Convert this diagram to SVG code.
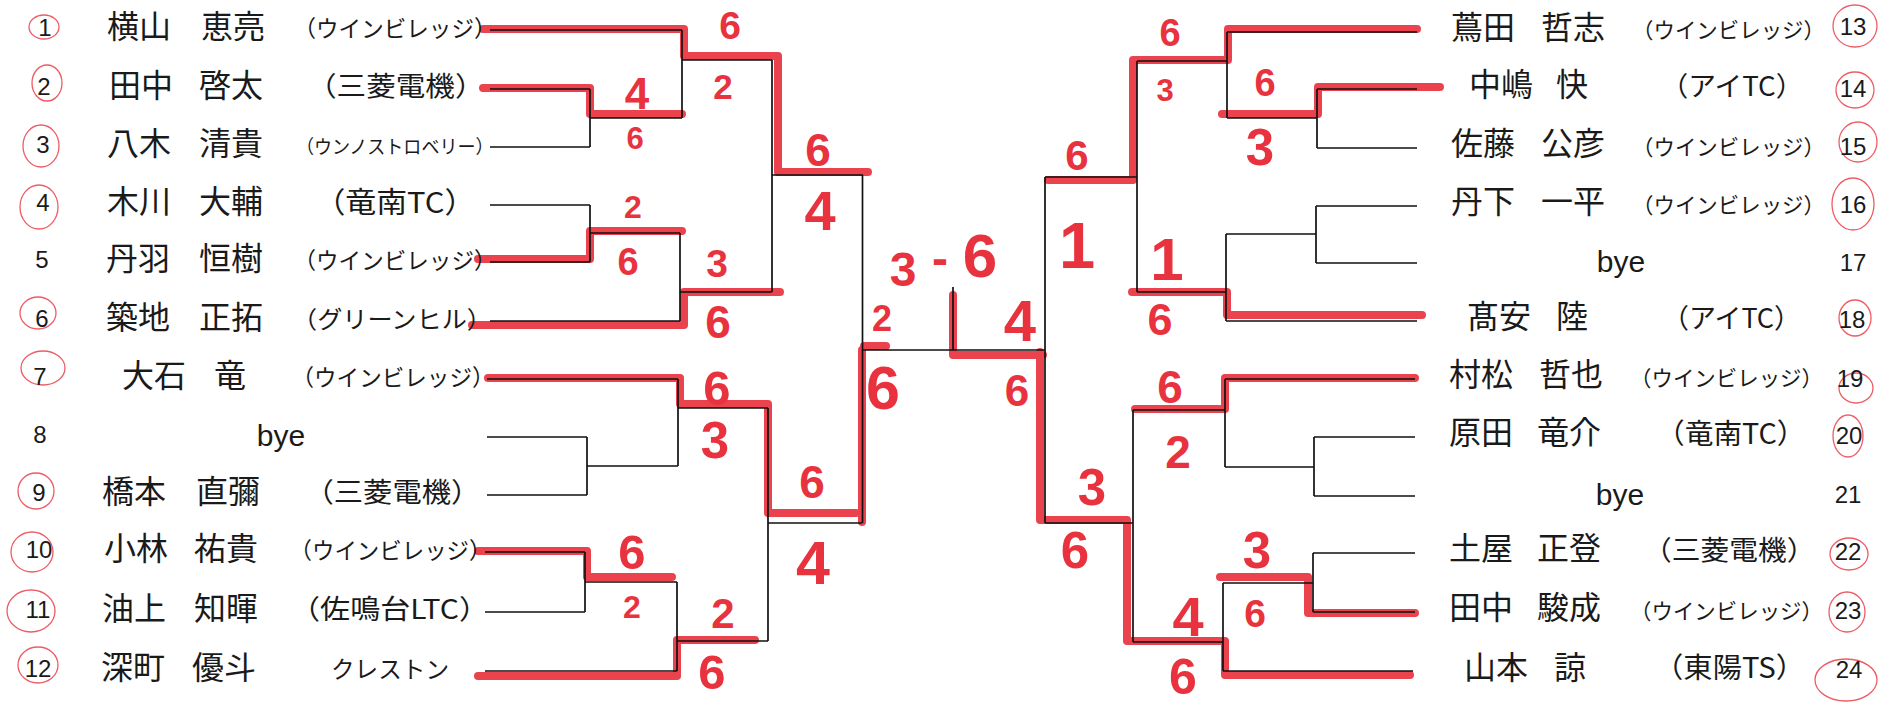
<svg xmlns="http://www.w3.org/2000/svg" width="1883" height="702" viewBox="0 0 1883 702">
<style>
.nm{font-family:"Noto Sans CJK JP","Noto Sans CJK SC",sans-serif;font-size:32px;fill:#1a1a1a}
.tm{font-family:"Noto Sans CJK JP","Noto Sans CJK SC",sans-serif;fill:#1a1a1a}
.no{font-family:"Liberation Sans",Arial,sans-serif;font-size:24px;fill:#1a1a1a;text-anchor:middle}
.by{font-family:"Liberation Sans",Arial,sans-serif;font-size:30px;fill:#1a1a1a;text-anchor:middle}
.sc{font-family:"Liberation Sans",Arial,sans-serif;font-weight:bold;fill:#e8333f;text-anchor:middle}
.ln{stroke:#111;stroke-width:1.7;fill:none}
.hl{stroke:#e8333f;stroke-width:8;fill:none;stroke-linecap:round;stroke-linejoin:round;opacity:.92}
.c{stroke:#e8333f;stroke-width:1.3;fill:none;opacity:.8}
</style>
<rect width="1883" height="702" fill="#fff"/>

<g id="highlights">
<path class="hl" d="M483,29 H684 V56 H778 V172 H868"/>
<path class="hl" d="M483,88 H590 V114 H682"/>
<path class="hl" d="M478,259 H590 V231 H682"/>
<path class="hl" d="M472,325 H684 V292 H780"/>
<path class="hl" d="M488,378 H680 V404 H768 V513 H856 M862,522 V350 M864,346 H886"/>
<path class="hl" d="M478,551 H587 V577 H672"/>
<path class="hl" d="M478,676 H677 V640 H755"/>
<path class="hl" d="M953,295 V355 H1043 M1040,352 V520 H1127 V641 H1225 V675 H1410"/>
<path class="hl" d="M1415,613 H1308 V577 H1220"/>
<path class="hl" d="M1415,378 H1225 V409 H1135"/>
<path class="hl" d="M1417,29 H1228 V60 H1133 V180 H1048"/>
<path class="hl" d="M1440,87 H1318 V114 H1222"/>
<path class="hl" d="M1422,315 H1227 V292 H1132"/>
</g>

<g id="connectors" class="ln">
<path d="M490,30 H682 M490,89 H590 M490,147 H590 M590,89 V147 M590,118 H682 M682,30 V118 M682,60 H772"/>
<path d="M490,205 H590 M490,262 H590 M590,205 V262 M590,233 H680 M490,321 H680 M680,233 V321 M680,292 H772 M772,60 V292 M772,175 H863"/>
<path d="M487,379 H678 M487,437 H587 M487,495 H587 M587,437 V495 M587,466 H678 M678,379 V466 M678,408 H768"/>
<path d="M485,552 H585 M485,612 H585 M585,552 V612 M585,582 H677 M485,671 H677 M677,582 V671 M677,641 H768 M768,408 V641 M768,523 H862"/>
<path d="M862.5,175 V523 M862.5,350 H1045 M953,287 V350"/>
<path d="M1045,177 V523 M1045,177 H1137 M1137,61 V292 M1137,61 H1227 M1227,32 V118 M1227,32 H1417 M1227,118 H1317 M1317,89 V148 M1317,89 H1417 M1317,148 H1417"/>
<path d="M1137,292 H1226 M1226,234 V321 M1226,321 H1417 M1226,234 H1316 M1316,206 V263 M1316,206 H1417 M1316,263 H1417"/>
<path d="M1045,523 H1133 M1133,410 V642 M1133,410 H1225 M1225,379 V467 M1225,379 H1415 M1225,467 H1314 M1314,437 V496 M1314,437 H1415 M1314,496 H1415"/>
<path d="M1133,642 H1223 M1223,583 V671 M1223,671 H1413 M1223,583 H1313 M1313,553 V612 M1313,553 H1415 M1313,612 H1415"/>
</g>

<g id="circles">
<ellipse class="c" cx="44" cy="27" rx="15" ry="12"/>
<ellipse class="c" cx="47" cy="83" rx="15" ry="18"/>
<ellipse class="c" cx="41" cy="146" rx="18" ry="21"/>
<ellipse class="c" cx="39" cy="207" rx="19" ry="22"/>
<ellipse class="c" cx="38" cy="313" rx="18" ry="16"/>
<ellipse class="c" cx="43" cy="368" rx="22" ry="17"/>
<ellipse class="c" cx="36" cy="491" rx="18" ry="18"/>
<ellipse class="c" cx="32" cy="552" rx="21" ry="20"/>
<ellipse class="c" cx="31" cy="611" rx="24" ry="21"/>
<ellipse class="c" cx="38" cy="665" rx="20" ry="18"/>
<ellipse class="c" cx="1855" cy="26" rx="22" ry="21"/>
<ellipse class="c" cx="1855" cy="90" rx="19" ry="18"/>
<ellipse class="c" cx="1858" cy="142" rx="19" ry="20"/>
<ellipse class="c" cx="1853" cy="204" rx="21" ry="26"/>
<ellipse class="c" cx="1855" cy="318" rx="16" ry="18"/>
<ellipse class="c" cx="1856" cy="388" rx="17" ry="15"/>
<ellipse class="c" cx="1848" cy="436" rx="15" ry="21"/>
<ellipse class="c" cx="1849" cy="554" rx="19" ry="16"/>
<ellipse class="c" cx="1847" cy="612" rx="18" ry="20"/>
<ellipse class="c" cx="1846" cy="680" rx="31" ry="21"/>
</g>

<g id="p1"><text class="no" x="45" y="36">1</text><text class="nm" y="38"><tspan x="107">横山</tspan><tspan x="201">恵亮</tspan></text><text class="tm" x="293.5" y="37" font-size="23" textLength="203" lengthAdjust="spacingAndGlyphs">（ウインビレッジ）</text></g>
<g id="p2"><text class="no" x="44" y="95">2</text><text class="nm" y="97"><tspan x="109">田中</tspan><tspan x="199">啓太</tspan></text><text class="tm" x="307" y="96" font-size="27" textLength="177.5" lengthAdjust="spacingAndGlyphs">（三菱電機）</text></g>
<g id="p3"><text class="no" x="43" y="153">3</text><text class="nm" y="155"><tspan x="107">八木</tspan><tspan x="199">清貴</tspan></text><text class="tm" x="296" y="154" font-size="19" textLength="197.6" lengthAdjust="spacingAndGlyphs">（ウンノストロベリー）</text></g>
<g id="p4"><text class="no" x="43" y="211">4</text><text class="nm" y="213"><tspan x="107">木川</tspan><tspan x="199">大輔</tspan></text><text class="tm" x="314.4" y="213" font-size="29" textLength="161" lengthAdjust="spacingAndGlyphs">（竜南TC）</text></g>
<g id="p5"><text class="no" x="42" y="268">5</text><text class="nm" y="270"><tspan x="106">丹羽</tspan><tspan x="199">恒樹</tspan></text><text class="tm" x="293.5" y="269" font-size="23" textLength="203" lengthAdjust="spacingAndGlyphs">（ウインビレッジ）</text></g>
<g id="p6"><text class="no" x="42" y="327">6</text><text class="nm" y="329"><tspan x="106">築地</tspan><tspan x="199">正拓</tspan></text><text class="tm" x="292" y="328" font-size="24" textLength="200" lengthAdjust="spacingAndGlyphs">（グリーンヒル）</text></g>
<g id="p7"><text class="no" x="40" y="385">7</text><text class="nm" y="387"><tspan x="122">大石</tspan><tspan x="214">竜</tspan></text><text class="tm" x="291.5" y="386" font-size="23" textLength="203" lengthAdjust="spacingAndGlyphs">（ウインビレッジ）</text></g>
<g id="p8"><text class="no" x="40" y="443">8</text><text class="by" x="281" y="446">bye</text></g>
<g id="p9"><text class="no" x="39" y="501">9</text><text class="nm" y="503"><tspan x="102">橋本</tspan><tspan x="196">直彌</tspan></text><text class="tm" x="304.4" y="502" font-size="27" textLength="176" lengthAdjust="spacingAndGlyphs">（三菱電機）</text></g>
<g id="p10"><text class="no" x="39" y="558">10</text><text class="nm" y="560"><tspan x="104">小林</tspan><tspan x="194">祐貴</tspan></text><text class="tm" x="289.5" y="559" font-size="23" textLength="202" lengthAdjust="spacingAndGlyphs">（ウインビレッジ）</text></g>
<g id="p11"><text class="no" x="38" y="618">11</text><text class="nm" y="620"><tspan x="102">油上</tspan><tspan x="194">知暉</tspan></text><text class="tm" x="290" y="619" font-size="27" textLength="199" lengthAdjust="spacingAndGlyphs">（佐鳴台LTC）</text></g>
<g id="p12"><text class="no" x="38" y="677">12</text><text class="nm" y="679"><tspan x="101">深町</tspan><tspan x="192">優斗</tspan></text><text class="tm" x="331" y="678" font-size="24" textLength="118" lengthAdjust="spacingAndGlyphs">クレストン</text></g>

<g id="p13"><text class="no" x="1853" y="35">13</text><text class="nm" y="39"><tspan x="1451">蔦田</tspan><tspan x="1541">哲志</tspan></text><text class="tm" x="1632" y="38" font-size="21.5" textLength="193" lengthAdjust="spacingAndGlyphs">（ウインビレッジ）</text></g>
<g id="p14"><text class="no" x="1853" y="97">14</text><text class="nm" y="96"><tspan x="1469">中嶋</tspan><tspan x="1556">快</tspan></text><text class="tm" x="1660.5" y="96" font-size="27" textLength="143" lengthAdjust="spacingAndGlyphs">（アイTC）</text></g>
<g id="p15"><text class="no" x="1853" y="155">15</text><text class="nm" y="155"><tspan x="1451">佐藤</tspan><tspan x="1541">公彦</tspan></text><text class="tm" x="1632" y="155" font-size="21.5" textLength="193" lengthAdjust="spacingAndGlyphs">（ウインビレッジ）</text></g>
<g id="p16"><text class="no" x="1853" y="213">16</text><text class="nm" y="213"><tspan x="1451">丹下</tspan><tspan x="1541">一平</tspan></text><text class="tm" x="1632" y="213" font-size="21.5" textLength="193" lengthAdjust="spacingAndGlyphs">（ウインビレッジ）</text></g>
<g id="p17"><text class="no" x="1853" y="271">17</text><text class="by" x="1621" y="272">bye</text></g>
<g id="p18"><text class="no" x="1852" y="328">18</text><text class="nm" y="328"><tspan x="1467">髙安</tspan><tspan x="1556">陸</tspan></text><text class="tm" x="1662" y="328" font-size="27" textLength="139" lengthAdjust="spacingAndGlyphs">（アイTC）</text></g>
<g id="p19"><text class="no" x="1850" y="387">19</text><text class="nm" y="386"><tspan x="1449">村松</tspan><tspan x="1539">哲也</tspan></text><text class="tm" x="1630" y="386" font-size="21.5" textLength="193" lengthAdjust="spacingAndGlyphs">（ウインビレッジ）</text></g>
<g id="p20"><text class="no" x="1849" y="444">20</text><text class="nm" y="444"><tspan x="1449">原田</tspan><tspan x="1537">竜介</tspan></text><text class="tm" x="1656" y="444" font-size="28" textLength="149.5" lengthAdjust="spacingAndGlyphs">（竜南TC）</text></g>
<g id="p21"><text class="no" x="1848" y="503">21</text><text class="by" x="1620" y="505">bye</text></g>
<g id="p22"><text class="no" x="1848" y="560">22</text><text class="nm" y="560"><tspan x="1449">土屋</tspan><tspan x="1537">正登</tspan></text><text class="tm" x="1643" y="560" font-size="27" textLength="172.5" lengthAdjust="spacingAndGlyphs">（三菱電機）</text></g>
<g id="p23"><text class="no" x="1848" y="619">23</text><text class="nm" y="619"><tspan x="1449">田中</tspan><tspan x="1537">駿成</tspan></text><text class="tm" x="1630" y="619" font-size="21.5" textLength="193" lengthAdjust="spacingAndGlyphs">（ウインビレッジ）</text></g>
<g id="p24"><text class="no" x="1849" y="678">24</text><text class="nm" y="679"><tspan x="1464">山本</tspan><tspan x="1554">諒</tspan></text><text class="tm" x="1654" y="678" font-size="28" textLength="151" lengthAdjust="spacingAndGlyphs">（東陽TS）</text></g>

<g id="scores">
<text class="sc" x="730" y="39" font-size="39">6</text>
<text class="sc" x="723" y="99" font-size="35">2</text>
<text class="sc" x="637" y="109" font-size="44">4</text>
<text class="sc" x="635" y="149" font-size="31">6</text>
<text class="sc" x="818" y="166" font-size="46">6</text>
<text class="sc" x="820" y="230" font-size="56">4</text>
<text class="sc" x="633" y="218" font-size="32">2</text>
<text class="sc" x="628" y="275" font-size="38">6</text>
<text class="sc" x="717" y="277" font-size="39">3</text>
<text class="sc" x="718" y="338" font-size="46">6</text>
<text class="sc" x="882" y="331" font-size="36">2</text>
<text class="sc" x="883" y="409" font-size="61">6</text>
<text class="sc"><tspan x="903" y="286" font-size="48">3</tspan><tspan x="940" y="275" font-size="48">-</tspan><tspan x="980" y="277" font-size="62">6</tspan></text>
<text class="sc" x="1020" y="341" font-size="58">4</text>
<text class="sc" x="1017" y="406" font-size="44">6</text>
<text class="sc" x="717" y="405" font-size="49">6</text>
<text class="sc" x="715" y="458" font-size="51">3</text>
<text class="sc" x="812" y="498" font-size="46">6</text>
<text class="sc" x="813" y="584" font-size="61">4</text>
<text class="sc" x="632" y="569" font-size="49">6</text>
<text class="sc" x="632" y="618" font-size="32">2</text>
<text class="sc" x="723" y="628" font-size="42">2</text>
<text class="sc" x="712" y="689" font-size="49">6</text>
<text class="sc" x="1170" y="46" font-size="38">6</text>
<text class="sc" x="1165" y="101" font-size="31">3</text>
<text class="sc" x="1265" y="96" font-size="38">6</text>
<text class="sc" x="1260" y="165" font-size="51">3</text>
<text class="sc" x="1077" y="170" font-size="42">6</text>
<text class="sc" x="1077" y="268" font-size="65">1</text>
<text class="sc" x="1167" y="280" font-size="60">1</text>
<text class="sc" x="1160" y="335" font-size="45">6</text>
<text class="sc" x="1170" y="403" font-size="46">6</text>
<text class="sc" x="1178" y="468" font-size="46">2</text>
<text class="sc" x="1092" y="505" font-size="51">3</text>
<text class="sc" x="1075" y="568" font-size="51">6</text>
<text class="sc" x="1257" y="568" font-size="51">3</text>
<text class="sc" x="1255" y="627" font-size="39">6</text>
<text class="sc" x="1188" y="636" font-size="56">4</text>
<text class="sc" x="1183" y="694" font-size="50">6</text>
</g>
</svg>
